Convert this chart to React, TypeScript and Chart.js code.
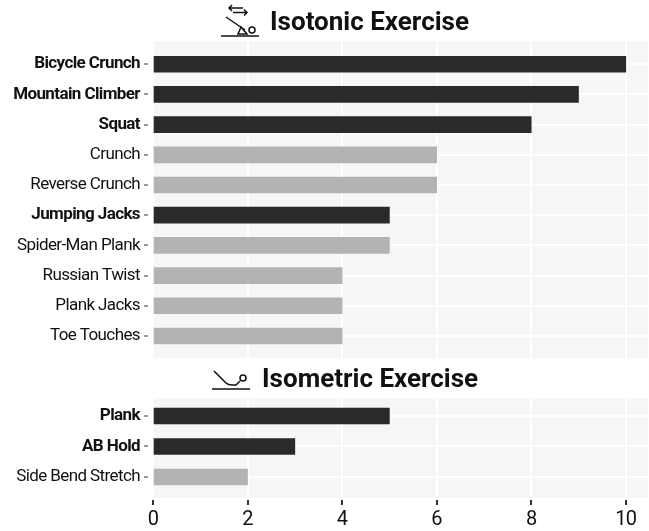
import React, { useEffect, useRef } from "react";
import { Chart, registerables } from "chart.js";

Chart.register(...registerables);

const isotonicLabels = ["Bicycle Crunch", "Mountain Climber", "Squat", "Crunch", "Reverse Crunch", "Jumping Jacks", "Spider-Man Plank", "Russian Twist", "Plank Jacks", "Toe Touches"];
const isotonicValues = [10, 9, 8, 6, 6, 5, 5, 4, 4, 4];
const isotonicHighlight = [true, true, true, false, false, true, false, false, false, false];
const isometricLabels = ["Plank", "AB Hold", "Side Bend Stretch"];
const isometricValues = [5, 3, 2];
const isometricHighlight = [true, true, false];

const DARK = "#2a2a2a";
const GREY = "#b3b3b3";
const PANEL = "#f6f6f6";
const LABEL_FONT = "Roboto, sans-serif";

const panelBackground = {
  id: "panelBackground",
  beforeDraw(chart: any) {
    const { ctx, chartArea: a } = chart;
    ctx.fillStyle = PANEL;
    ctx.fillRect(a.left, a.top, a.right - a.left, a.bottom - a.top);
    ctx.letterSpacing = "-0.6px";
  },
};

function makeChart(canvas: HTMLCanvasElement, labels: string[], values: number[], highlight: boolean[], yMin: number, yMax: number, top: number, bottom: number, showX: boolean) {
  return new Chart(canvas, {
    type: "bar",
    plugins: [panelBackground],
    data: {
      datasets: [{
        data: values.map((v, i) => ({ x: v, y: i })),
        backgroundColor: highlight.map((h) => (h ? DARK : GREY)),
        barThickness: 16,
      }],
    },
    options: {
      indexAxis: "y",
      animation: false,
      responsive: false,
      layout: { padding: { top, bottom: showX ? 0 : bottom, left: 0, right: 1 } },
      plugins: { legend: { display: false }, tooltip: { enabled: false }, title: { display: false } },
      scales: {
        x: {
          type: "linear",
          min: 0,
          max: 10.47,
          border: { display: false },
          grid: { color: "#ffffff", lineWidth: 2, drawTicks: showX, tickColor: "#333333", tickLength: 7, tickWidth: 2, tickBorderDash: [5, 2], tickBorderDashOffset: 5 },
          ticks: {
            display: showX,
            stepSize: 2,
            includeBounds: false,
            maxRotation: 0,
            padding: 3,
            color: "#111111",
            font: { family: LABEL_FONT, size: 20 },
          },
          afterFit(scale: any) {
            scale.height = showX ? bottom : 0;
          },
        },
        y: {
          type: "linear",
          reverse: true,
          offset: false,
          min: yMin,
          max: yMax,
          border: { display: false },
          grid: { offset: false, color: "#ffffff", lineWidth: 2, tickColor: "#333333", tickLength: 9, tickWidth: 1, tickBorderDash: [4, 5] },
          afterBuildTicks(scale: any) {
            scale.ticks = labels.map((_, i) => ({ value: i }));
          },
          ticks: {
            padding: 4,
            color: "#111111",
            callback: (v: any) => labels[v] ?? "",
            font: (ctx: any) => ({
              family: LABEL_FONT,
              size: 17,
              weight: highlight[ctx.tick?.value] ? "bold" : "normal",
            }),
          },
          afterFit(scale: any) {
            scale.width = 153;
            scale.paddingTop = 0;
            scale.paddingBottom = 0;
          },
        },
      },
    } as any,
  });
}

const titleStyle: React.CSSProperties = {
  position: "absolute",
  fontFamily: "Roboto, sans-serif",
  fontWeight: 700,
  fontSize: 26,
  lineHeight: "30px",
  color: "#111111",
  whiteSpace: "nowrap",
};

export default function App() {
  const a = useRef<HTMLCanvasElement>(null);
  const b = useRef<HTMLCanvasElement>(null);
  useEffect(() => {
    const c1 = makeChart(a.current!, isotonicLabels, isotonicValues, isotonicHighlight, -0.77, 9.73, 41, 2, false);
    const c2 = makeChart(b.current!, isometricLabels, isometricValues, isometricHighlight, -0.59, 2.69, 18, 33, true);
    return () => {
      c1.destroy();
      c2.destroy();
    };
  }, []);
  return (
    <div style={{ position: "fixed", left: 0, top: 0, width: 649, height: 531, background: "#ffffff", overflow: "hidden" }}>
      <canvas ref={a} width={649} height={360} style={{ position: "absolute", left: 0, top: 0 }} />
      <canvas ref={b} width={649} height={151} style={{ position: "absolute", left: 0, top: 380 }} />
      <div style={{ ...titleStyle, left: 270, top: 6 }}>Isotonic Exercise</div>
      <div style={{ ...titleStyle, left: 262, top: 363 }}>Isometric Exercise</div>
      <svg width={649} height={531} style={{ position: "absolute", left: 0, top: 0, pointerEvents: "none" }} fill="none" stroke="#111111" strokeWidth={1.5}>
        <path d="M221 36H259" />
        <path d="M229 8H243M232 5L229 8L232 11M233 12.5H247M244 9.5L247 12.5L244 15.5" />
        <path d="M226 17L245 30M241 27L238 34H247Z" />
        <circle cx={252} cy={30} r={3} />
        <path d="M212 389H250" />
        <path d="M214 371L226 383Q228 385 232 385H236L240 381" />
        <circle cx={243} cy={378} r={3} />
      </svg>
    </div>
  );
}
